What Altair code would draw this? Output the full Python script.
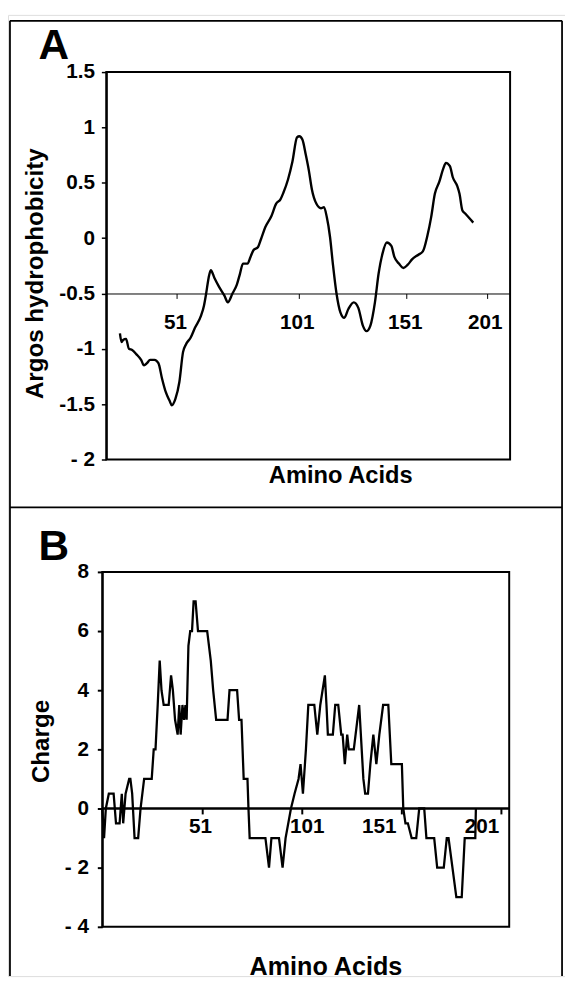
import altair as alt
import pandas as pd

# ---------------- data ----------------
# Panel A: Argos hydrophobicity profile
aa_a = [27.6, 28.3, 28.9, 30.1, 31.3, 32.6, 34.4, 36.3, 37.5, 38.7, 40.0, 41.8, 43.4, 44.9, 46.4,
        48.0, 48.9, 50.4, 52.0, 53.5, 54.7, 56.6, 58.4, 60.9, 62.1, 63.0, 64.0, 64.9, 66.4, 68.3,
        70.5, 71.9, 73.8, 75.6, 76.9, 78.1, 80.0, 81.2, 82.4, 84.3, 85.5, 87.3, 89.8, 91.7, 93.5,
        94.7, 96.6, 98.4, 100.3, 101.3, 102.7, 104.3, 105.7, 107.1, 109.2, 111.3, 112.7, 114.0, 115.5,
        116.8, 118.5, 120.3, 122.1, 124.0, 126.5, 128.6, 130.7, 132.4, 134.2, 136.3, 138.0, 139.8,
        141.8, 143.9, 145.3, 147.4, 149.5, 151.7, 154.5, 158.3, 161.1, 163.9, 166.3, 168.6, 171.4,
        173.9, 175.5, 178.0, 179.8, 182.6, 184.0, 185.8, 187.7, 190.2, 192.6]
hydro = [-0.86, -0.94, -0.92, -0.91, -1.00, -1.01, -1.05, -1.10, -1.15, -1.13, -1.10, -1.10, -1.13,
         -1.27, -1.39, -1.47, -1.51, -1.45, -1.30, -1.03, -0.96, -0.90, -0.81, -0.70, -0.61, -0.50,
         -0.36, -0.29, -0.36, -0.44, -0.52, -0.58, -0.50, -0.42, -0.32, -0.23, -0.23, -0.17, -0.11,
         -0.08, -0.01, 0.10, 0.20, 0.31, 0.35, 0.41, 0.53, 0.69, 0.91, 0.92, 0.89, 0.75, 0.61, 0.44,
         0.31, 0.27, 0.28, 0.19, 0.01, -0.23, -0.50, -0.67, -0.72, -0.64, -0.58, -0.63, -0.79, -0.84,
         -0.79, -0.58, -0.32, -0.14, -0.04, -0.07, -0.17, -0.23, -0.27, -0.24, -0.19, -0.15, -0.12,
         0.02, 0.19, 0.40, 0.51, 0.63, 0.68, 0.65, 0.55, 0.47, 0.40, 0.25, 0.22, 0.18, 0.14]

# Panel B: net charge profile
aa_b = [1, 1.9, 2.8, 4.3, 6.7, 7.9, 9.7, 10.8, 11.5, 12.7, 14.5, 15.1, 16.0, 17.2, 19.0, 20.2, 22.0,
        25.8, 26.8, 27.7, 28.8, 29.8, 30.7, 31.8, 34.3, 35.5, 36.4, 37.5, 38.8, 39.6, 40.3, 41.2,
        42.0, 42.7, 43.3, 44.2, 45.1, 46.0, 46.8, 47.8, 49.0, 53.6, 55.4, 56.6, 58.1, 63.8, 64.8,
        68.6, 69.6, 70.8, 71.9, 73.8, 74.3, 74.9, 82.8, 84.6, 85.8, 89.6, 91.4, 92.9, 95.6, 97.4,
        99.4, 100.4, 101.6, 103.1, 104.3, 107.3, 108.8, 110.3, 112.6, 113.4, 114.1, 116.6, 117.8,
        119.3, 120.8, 121.5, 122.6, 123.8, 124.6, 127.1, 129.8, 131.9, 132.8, 134.2, 135.4, 136.9,
        138.4, 139.9, 141.8, 144.4, 145.9, 151.2, 151.9, 153.0, 154.2, 156.1, 158.4, 159.9, 162.4,
        163.5, 167.4, 168.9, 172.2, 173.7, 174.6, 178.5, 181.2, 182.7, 188.0, 188.3]
charge = [0, -1, 0, 0.5, 0.5, -0.5, -0.5, 0.5, -0.5, 0.5, 1, 1, 0.5, -1, -1, 0, 1,
          1, 2, 2, 3.5, 5, 4, 3.5, 3.5, 4.5, 4, 3, 2.5, 3.5, 2.5, 3.5,
          3, 3.5, 3, 5.5, 6, 6, 7, 7, 6, 6, 5, 4, 3, 3, 4,
          4, 3, 3, 1, 1, 0, -1, -1, -2, -1, -1, -2, -1, 0, 0.5,
          1, 1.5, 0.5, 2, 3.5, 3.5, 2.5, 3.5, 4.5, 3.5, 2.5, 2.5, 3.5,
          3.5, 2.5, 2.5, 1.5, 2.5, 2, 2, 3.5, 1, 0.5, 0.5, 1.5, 2.5,
          1.5, 2.5, 3.5, 3.5, 1.5, 1.5, 0, -0.5, -0.5, -1, -1, 0, 0,
          -1, -1, -2, -2, -1, -1, -3, -3, -1, -1, 0]

x_ticks = [51, 101, 151, 201]
a_y_ticks = [1.5, 1, 0.5, 0, -0.5, -1, -1.5, -2]
a_y_labels = ["1.5", "1", "0.5", "0", "-0.5", "-1", "-1.5", "- 2"]
b_y_ticks = [8, 6, 4, 2, 0, -2, -4]
b_y_labels = ["8", "6", "4", "2", "0", "- 2", "- 4"]

FONT = "Liberation Sans"


def label_expr(ticks, labels):
    s = "''"
    for t, l in reversed(list(zip(ticks, labels))):
        s = f"datum.value == {t} ? '{l}' : {s}"
    return s


df_a = pd.DataFrame({"aa": aa_a, "h": hydro})
df_b = pd.DataFrame({"aa": aa_b, "c": charge})
one = pd.DataFrame({"k": [0]})

common_axis = dict(
    labelFont=FONT, labelFontWeight="bold", labelColor="black",
    titleFont=FONT, titleFontWeight="bold", titleColor="black",
    domainColor="black", tickColor="black", grid=False,
    labelFlush=False, labelOverlap=False,
)

# ---------------- panel A ----------------
line_a = alt.Chart(df_a).mark_line(color="black", strokeWidth=2.4, interpolate="monotone").encode(
    x=alt.X("aa:Q",
            scale=alt.Scale(domain=[22, 101, 151, 201, 216],
                            range=[99.7, 294.9, 404.4, 485.6, 509.3],
                            nice=False, zero=False),
            axis=alt.Axis(orient="bottom", offset=-692.4, values=x_ticks, format="d",
                          domainWidth=1, tickWidth=1, tickSize=5, labelPadding=14,
                          labelFontSize=21, labelOffset=-2,
                          title="Amino Acids", titleFontSize=24, titleX=337, titleY=192,
                          titleAlign="center", titleBaseline="alphabetic", **common_axis)),
    y=alt.Y("h:Q",
            scale=alt.Scale(domain=[-2, 1.5], range=[451, 58], nice=False, zero=False),
            axis=alt.Axis(orient="left", offset=-99.7, values=a_y_ticks,
                          labelExpr=label_expr(a_y_ticks, a_y_labels),
                          domainWidth=2, tickWidth=1.5, tickSize=5, labelPadding=7,
                          labelFontSize=21,
                          title="Argos hydrophobicity", titleFontSize=24.5, titleAngle=-90,
                          titleX=-71.4, titleY=262, titleAlign="center", titleBaseline="middle",
                          **common_axis)),
)

# ---------------- panel B ----------------
line_b = alt.Chart(df_b).mark_line(color="black", strokeWidth=2.3).encode(
    x=alt.X("aa:Q",
            scale=alt.Scale(domain=[1, 205], range=[95.6, 508.4], nice=False, zero=False),
            axis=alt.Axis(orient="bottom", offset=-170.5, values=x_ticks, format="d",
                          domainWidth=2.3, tickWidth=2, tickSize=6, labelPadding=2,
                          labelFontSize=21,
                          labelOffset={"condition": [
                              {"test": "datum.value == 101", "value": 5},
                              {"test": "datum.value == 151", "value": -23},
                              {"test": "datum.value == 201", "value": -20}],
                              "value": -2},
                          title="Amino Acids", titleFontSize=25.5, titleX=322, titleY=169,
                          titleAlign="center", titleBaseline="alphabetic", **common_axis)),
    y=alt.Y("c:Q",
            scale=alt.Scale(domain=[-4, 8], range=[925, 565], nice=False, zero=False),
            axis=alt.Axis(orient="left", offset=-95.6, values=b_y_ticks,
                          labelExpr=label_expr(b_y_ticks, b_y_labels),
                          domainWidth=2, tickWidth=2, tickSize=5, labelPadding=9,
                          labelFontSize=21,
                          title="Charge", titleFontSize=24.5, titleAngle=-90,
                          titleX=-61.1, titleY=736.5, titleAlign="center", titleBaseline="middle",
                          **common_axis)),
)

# ---------------- frames and panel letters ----------------
frame_a = alt.Chart(one).mark_rect(fillOpacity=0, stroke="black", strokeWidth=2).encode(
    x=alt.value(99.7), x2=alt.value(509.3), y=alt.value(58), y2=alt.value(451))
frame_b = alt.Chart(one).mark_rect(fillOpacity=0, stroke="black", strokeWidth=2).encode(
    x=alt.value(95.6), x2=alt.value(508.4), y=alt.value(565), y2=alt.value(925))
outer_top = alt.Chart(one).mark_rule(color="black", strokeWidth=1.8).encode(
    x=alt.value(2), x2=alt.value(562), y=alt.value(6))
outer_mid = alt.Chart(one).mark_rule(color="black", strokeWidth=1.8).encode(
    x=alt.value(2), x2=alt.value(562), y=alt.value(499.5))
outer_left = alt.Chart(one).mark_rule(color="black", strokeWidth=1.8).encode(
    x=alt.value(2), y=alt.value(6), y2=alt.value(975))
outer_right = alt.Chart(one).mark_rule(color="black", strokeWidth=1.8).encode(
    x=alt.value(562), y=alt.value(6), y2=alt.value(975))

letter_a = alt.Chart(pd.DataFrame({"t": ["A"]})).mark_text(
    font=FONT, fontWeight="bold", fontSize=43, align="left", baseline="alphabetic", color="black"
).encode(text="t:N", x=alt.value(31), y=alt.value(45))
letter_b = alt.Chart(pd.DataFrame({"t": ["B"]})).mark_text(
    font=FONT, fontWeight="bold", fontSize=43, align="left", baseline="alphabetic", color="black"
).encode(text="t:N", x=alt.value(31), y=alt.value(553))

chart = alt.layer(
    outer_top, outer_mid, outer_left, outer_right, frame_a, frame_b,
    line_a, line_b, letter_a, letter_b
).resolve_scale(x="independent", y="independent").resolve_axis(
    x="independent", y="independent"
).properties(
    width=565, height=975, autosize=alt.AutoSizeParams(type="none"), padding=0
).configure_view(strokeWidth=0).configure(background="white")

chart.save("out.html", embed_options={"renderer": "svg", "actions": False})
